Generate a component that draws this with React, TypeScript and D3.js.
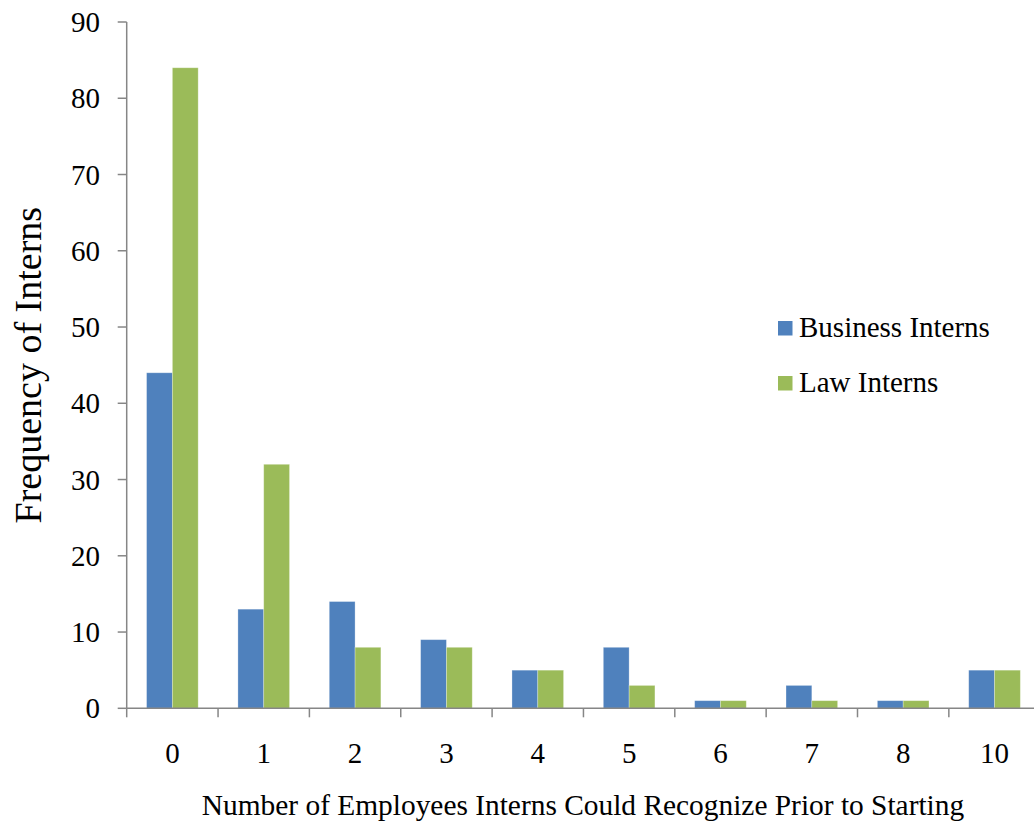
import React from "react";
import * as d3 from "d3";

const categories = ["0", "1", "2", "3", "4", "5", "6", "7", "8", "10"];
const businessInterns = [44, 13, 14, 9, 5, 8, 1, 3, 1, 5];
const lawInterns = [84, 32, 8, 8, 5, 3, 1, 1, 1, 5];
const seriesNames = ["Business Interns", "Law Interns"];
const seriesColors = ["#4F81BD", "#9BBB59"];
const yTicks = [0, 10, 20, 30, 40, 50, 60, 70, 80, 90];

const W = 1034;
const H = 825;
const left = 126.7;
const right = 1040.2;
const top = 22;
const bottom = 708.3;
const FONT = "'Liberation Serif', 'Times New Roman', serif";
const AXIS = "#868686";

export default function App() {
  const x0 = d3.scaleBand<string>().domain(categories).range([left, right]).padding(0);
  const x1 = d3
    .scaleBand<string>()
    .domain(seriesNames)
    .range([0, x0.bandwidth()])
    .paddingInner(0)
    .paddingOuter(0.77);
  const y = d3.scaleLinear().domain([0, 90]).range([bottom, top]);
  const series = [businessInterns, lawInterns];

  return (
    <svg
      width={W}
      height={H}
      style={{ position: "absolute", left: 0, top: 0, background: "#fff" }}
      fontFamily={FONT}
    >
      {/* bars */}
      {categories.map((c, i) => (
        <g key={c}>
          {series.map((s, k) => (
            <rect
              key={k}
              x={(x0(c) as number) + (x1(seriesNames[k]) as number)}
              y={y(s[i])}
              width={x1.bandwidth()}
              height={bottom - y(s[i])}
              fill={seriesColors[k]}
              stroke="#ffffff"
              strokeOpacity={0.35}
              strokeWidth={0.8}
            />
          ))}
        </g>
      ))}

      {/* y axis */}
      <line x1={left} x2={left} y1={top} y2={bottom} stroke={AXIS} strokeWidth={1.5} />
      {yTicks.map((t) => (
        <g key={t}>
          <line x1={left - 9} x2={left} y1={y(t)} y2={y(t)} stroke={AXIS} strokeWidth={1.5} />
          <text x={100} y={y(t)} dy="0.35em" textAnchor="end" fontSize={29} fill="#000">
            {t}
          </text>
        </g>
      ))}

      {/* x axis */}
      <line x1={left} x2={right} y1={bottom} y2={bottom} stroke={AXIS} strokeWidth={1.5} />
      {categories.map((c) => (
        <line
          key={"t" + c}
          x1={x0(c) as number}
          x2={x0(c) as number}
          y1={bottom}
          y2={bottom + 9}
          stroke={AXIS}
          strokeWidth={1.5}
        />
      ))}
      {categories.map((c) => (
        <text
          key={"l" + c}
          x={(x0(c) as number) + x0.bandwidth() / 2}
          y={763}
          textAnchor="middle"
          fontSize={29}
          fill="#000"
        >
          {c}
        </text>
      ))}

      {/* axis titles */}
      <text x={583} y={815} textAnchor="middle" fontSize={29.4} fill="#000">
        Number of Employees Interns Could Recognize Prior to Starting
      </text>
      <text
        transform={`translate(41, ${(top + bottom) / 2}) rotate(-90)`}
        textAnchor="middle"
        fontSize={38}
        fill="#000"
      >
        Frequency of Interns
      </text>

      {/* legend */}
      {seriesNames.map((n, k) => (
        <g key={n} transform={`translate(778, ${321 + k * 55})`}>
          <rect x={0} y={0} width={14.5} height={14.5} fill={seriesColors[k]} />
          <text x={21} y={16} fontSize={29} fill="#000">
            {n}
          </text>
        </g>
      ))}
    </svg>
  );
}
